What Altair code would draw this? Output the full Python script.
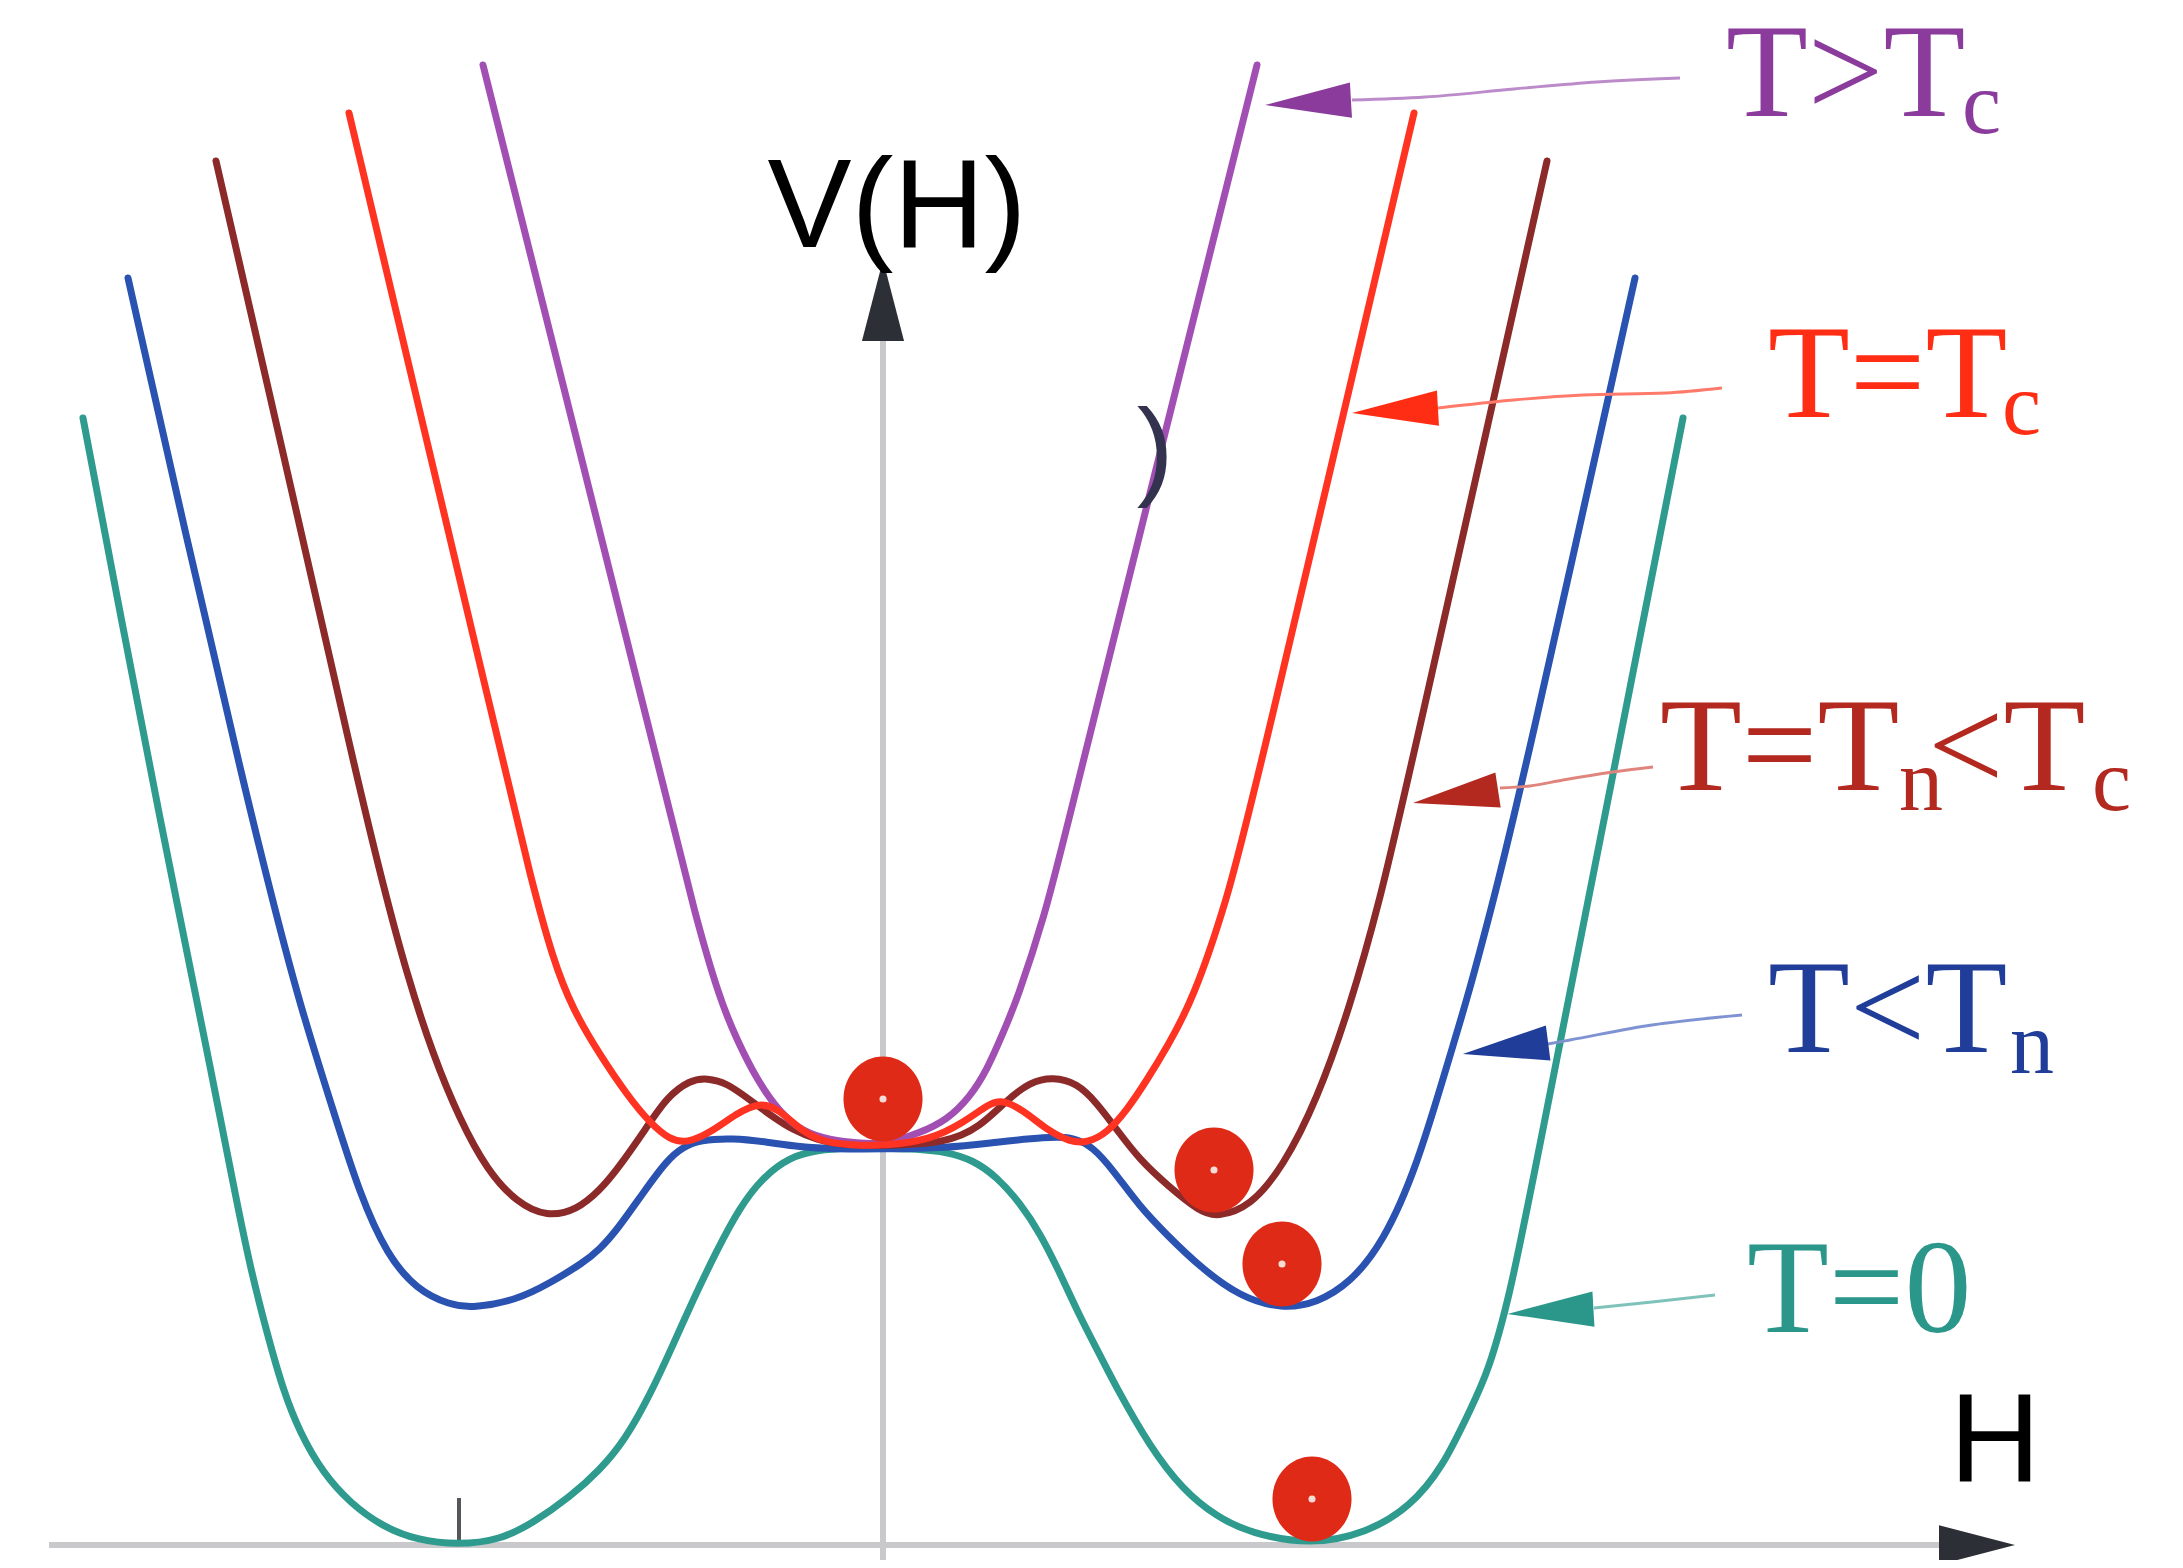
import altair as alt
import pandas as pd

# ---------------- curves V(H) (arbitrary units) ----------------
teal_pts = [(-2.0, 2.8175), (-1.9075, 2.3325), (-1.8175, 1.8625), (-1.665, 1.1125),
            (-1.625, 0.905), (-1.5825, 0.695), (-1.54, 0.53), (-1.5, 0.3875), (-1.4575, 0.28),
            (-1.4, 0.18), (-1.3325, 0.105), (-1.25, 0.045), (-1.165, 0.0125), (-1.0625, 0.0),
            (-0.9575, 0.0125), (-0.875, 0.055), (-0.7825, 0.12), (-0.7075, 0.1875), (-0.645, 0.2625),
            (-0.5825, 0.375), (-0.525, 0.5), (-0.475, 0.6125), (-0.415, 0.7375), (-0.3575, 0.845),
            (-0.3, 0.92), (-0.2325, 0.97), (-0.165, 0.9875), (-0.0825, 0.9925), (0.0, 0.9925),
            (0.085, 0.99), (0.16, 0.9825), (0.225, 0.9625), (0.285, 0.92), (0.3425, 0.855),
            (0.3925, 0.78), (0.4425, 0.68), (0.4925, 0.57), (0.5425, 0.475), (0.58, 0.4),
            (0.6675, 0.245), (0.75, 0.1375), (0.835, 0.07), (0.9175, 0.03), (1.0675, 0.0),
            (1.21, 0.03), (1.3175, 0.095), (1.4, 0.195), (1.4675, 0.3375), (1.5125, 0.43),
            (1.5675, 0.625), (1.625, 0.9125), (1.8125, 1.8625), (2.0, 2.8175)]

blue_pts = [(-1.8875, 3.1675), (-1.7425, 2.5225), (-1.595, 1.8875), (-1.52, 1.5875), (-1.4575, 1.35),
            (-1.375, 1.0875), (-1.3075, 0.875), (-1.24, 0.725), (-1.165, 0.6375), (-1.0825, 0.6),
            (-1.025, 0.5925), (-0.915, 0.6125), (-0.8325, 0.655), (-0.75, 0.705), (-0.7075, 0.74),
            (-0.665, 0.7875), (-0.6, 0.88), (-0.54, 0.9625), (-0.5, 0.995), (-0.4575, 1.0125),
            (-0.375, 1.0175), (-0.29, 1.0075), (-0.2075, 0.995), (-0.125, 0.99), (0.0, 0.99),
            (0.16, 0.9925), (0.285, 1.0075), (0.41, 1.02), (0.475, 1.02), (0.525, 0.995),
            (0.575, 0.9375), (0.6425, 0.845), (0.71, 0.775), (0.7925, 0.695), (0.8925, 0.62),
            (0.9975, 0.59), (1.085, 0.605), (1.1675, 0.655), (1.25, 0.755), (1.335, 0.945),
            (1.4175, 1.225), (1.4575, 1.355), (1.52, 1.5875), (1.595, 1.8875), (1.88, 3.1675)]

brown_pts = [(-1.6675, 3.46), (-1.4875, 2.6775), (-1.32, 1.9375), (-1.25, 1.65), (-1.19, 1.425),
             (-1.125, 1.225), (-1.0575, 1.0625), (-0.99, 0.9375), (-0.915, 0.855), (-0.84, 0.82),
             (-0.765, 0.8375), (-0.7075, 0.8875), (-0.665, 0.9375), (-0.59, 1.045), (-0.54, 1.12),
             (-0.4825, 1.1625), (-0.44, 1.1675), (-0.39, 1.155), (-0.3325, 1.1125), (-0.275, 1.07),
             (-0.225, 1.0375), (-0.165, 1.0125), (-0.1, 1.0), (0.0, 0.9975), (0.16, 1.005),
             (0.2425, 1.045), (0.31, 1.1125), (0.3675, 1.1575), (0.425, 1.17), (0.485, 1.155),
             (0.535, 1.105), (0.585, 1.0375), (0.6425, 0.9625), (0.71, 0.9), (0.7925, 0.8325),
             (0.835, 0.82), (0.9175, 0.845), (1.0, 0.945), (1.085, 1.1125), (1.1675, 1.345),
             (1.2425, 1.6125), (1.31, 1.9), (1.66, 3.46)]

purple_pts = [(-1.0, 3.7), (-0.54, 1.8625), (-0.47, 1.575), (-0.4075, 1.3625), (-0.365, 1.2625),
              (-0.315, 1.1625), (-0.2575, 1.08), (-0.2, 1.0325), (-0.1325, 1.0125), (-0.065, 1.005),
              (0.0, 1.0), (0.0925, 1.03), (0.16, 1.0625), (0.2175, 1.12), (0.26, 1.1875),
              (0.3, 1.28), (0.335, 1.3625), (0.405, 1.575), (0.455, 1.775), (0.6275, 2.47), (0.935, 3.7)]

red_pts = [(-1.335, 3.58), (-0.945, 1.9375), (-0.8825, 1.675), (-0.825, 1.4625), (-0.775, 1.3375),
           (-0.7075, 1.225), (-0.64, 1.125), (-0.5825, 1.055), (-0.5325, 1.0125), (-0.49, 1.005),
           (-0.4325, 1.03), (-0.365, 1.08), (-0.3075, 1.1075), (-0.2575, 1.0875), (-0.2075, 1.0375),
           (-0.15, 1.0075), (-0.0825, 1.0), (0.0, 0.9975), (0.1175, 1.0125), (0.2, 1.055),
           (0.2675, 1.105), (0.3, 1.1125), (0.35, 1.0875), (0.41, 1.0375), (0.4675, 1.0075),
           (0.51, 1.005), (0.56, 1.03), (0.61, 1.0875), (0.66, 1.1625), (0.71, 1.245),
           (0.775, 1.3625), (0.86, 1.6125), (0.925, 1.8625), (1.3275, 3.58)]

# draw order: bottom to top
curves = [("T=0", teal_pts, "#2e9b8e"), ("T<Tn", blue_pts, "#2a52b0"),
          ("T=Tn<Tc", brown_pts, "#8c2a2a"), ("T>Tc", purple_pts, "#a24fb3"),
          ("T=Tc", red_pts, "#ff3322")]

# balls (field values sitting in the minima)
balls = [(0.0, 1.115), (0.8275, 0.9375), (0.9975, 0.7025), (1.0725, 0.115)]

# legend labels
labels = ["T>Tc", "T=Tc", "T=Tn<Tc", "T<Tn", "T=0"]
label_colors = ["#8a3b9c", "#ff2d14", "#b3291f", "#1f3d99", "#2b968a"]
pointer_colors = ["#bb8bca", "#ff7a6a", "#e0857e", "#7f93d2", "#7fc2b9"]

main_pieces = [("T>Tc", "T>T", 2.1075, 3.5725), ("T=Tc", "T=T", 2.2125, 2.82),
               ("T=Tn<Tc", "T=T", 1.9425, 1.8875), ("T=Tn<Tc", "<T", 2.6125, 1.8875),
               ("T<Tn", "T<T", 2.2125, 1.2325), ("T=0", "T=0", 2.16, 0.5325)]
sub_pieces = [("T>Tc", "c", 2.6975, 3.53), ("T=Tc", "c", 2.7975, 2.7775),
              ("T=Tn<Tc", "n", 2.54, 1.8375), ("T=Tn<Tc", "c", 3.0225, 1.8375),
              ("T<Tn", "n", 2.8175, 1.18)]

pointers = {
    "T>Tc": [(1.1725, 3.6125), (1.355, 3.62), (1.5775, 3.64), (1.785, 3.6575), (1.9925, 3.6675)],
    "T=Tc": [(1.3875, 2.8425), (1.5775, 2.8625), (1.75, 2.875), (1.9575, 2.88), (2.0975, 2.8925)],
    "T=Tn<Tc": [(1.5425, 1.8925), (1.6175, 1.8975), (1.7, 1.9125), (1.825, 1.9325), (1.925, 1.945)],
    "T<Tn": [(1.6625, 1.2525), (1.7175, 1.2625), (1.9225, 1.3), (2.1475, 1.325)],
    "T=0": [(1.7775, 0.5925), (1.9225, 0.6075), (2.08, 0.625)],
}
# arrowhead centre and heading (degrees, clockwise on screen)
heads = [("T>Tc", 1.0625, 3.60625, 176.7), ("T=Tc", 1.28, 2.83625, 176.7),
         ("T=Tn<Tc", 1.43125, 1.87125, 171.3), ("T<Tn", 1.55625, 1.24125, 172.6),
         ("T=0", 1.66875, 0.58375, 176.7)]

# ---------------- scales ----------------
xs = alt.Scale(domain=[-2.1875, 3.23], nice=False, zero=False)
ys = alt.Scale(domain=[-0.0375, 3.8425], nice=False, zero=False)
X = lambda f: alt.X(f, type="quantitative", scale=xs, axis=None)
Y = lambda f: alt.Y(f, type="quantitative", scale=ys, axis=None)
lab_scale = alt.Scale(domain=labels, range=label_colors)

layers = []

# axes
axis_df = pd.DataFrame({"x": [-2.085, 0.0], "y": [0.0, -0.07], "x2": [2.6425, 0.0], "y2": [0.0, 3.01]})
layers.append(alt.Chart(axis_df).mark_rule(color="#c9c9cc", strokeWidth=6).encode(
    x=X("x"), y=Y("y"), x2="x2", y2="y2"))
tick_df = pd.DataFrame({"x": [-1.06], "y": [0.0], "y2": [0.1175]})
layers.append(alt.Chart(tick_df).mark_rule(color="#55565a", strokeWidth=4).encode(
    x=X("x"), y=Y("y"), y2="y2"))
axis_arrow = "M 1 0 L -1 -0.52 L -1 0.52 Z"
layers.append(alt.Chart(pd.DataFrame({"x": [2.735], "y": [0.0]})).mark_point(
    shape=axis_arrow, filled=True, opacity=1, size=5776, color="#2c2f36", angle=0).encode(x=X("x"), y=Y("y")))
layers.append(alt.Chart(pd.DataFrame({"x": [0.0], "y": [3.111]})).mark_point(
    shape=axis_arrow, filled=True, opacity=1, size=6561, color="#2c2f36", angle=270).encode(x=X("x"), y=Y("y")))

# curves
for name, pts, col in curves:
    df = pd.DataFrame(pts, columns=["H", "V"])
    layers.append(alt.Chart(df).mark_line(color=col, strokeWidth=7, interpolate="basis",
                                          strokeCap="round").encode(x=X("H"), y=Y("V")))

# balls
ball_df = pd.DataFrame(balls, columns=["H", "V"])
ellipse = ("M 0 -1 C 0.5136 -1 0.93 -0.5523 0.93 0 C 0.93 0.5523 0.5136 1 0 1 "
           "C -0.5136 1 -0.93 0.5523 -0.93 0 C -0.93 -0.5523 -0.5136 -1 0 -1 Z")
layers.append(alt.Chart(ball_df).mark_point(shape=ellipse, filled=True, opacity=1, size=7225,
                                            color="#e02a18").encode(x=X("H"), y=Y("V")))
layers.append(alt.Chart(ball_df).mark_point(shape="circle", filled=True, opacity=1, size=50,
                                            color="#f6dcd6").encode(x=X("H"), y=Y("V")))

# pointer lines
for lab, col in zip(labels, pointer_colors):
    df = pd.DataFrame(pointers[lab], columns=["H", "V"])
    layers.append(alt.Chart(df).mark_line(strokeWidth=2.8, interpolate="monotone", color=col).encode(
        x=X("H"), y=Y("V")))

head_df = pd.DataFrame(heads, columns=["label", "H", "V", "angle"])
layers.append(alt.Chart(head_df).mark_point(shape="M 1 0 L -1 -0.41 L -1 0.41 Z", filled=True,
                                            opacity=1, size=7400).encode(
    x=X("H"), y=Y("V"), angle=alt.Angle("angle:Q", scale=None),
    color=alt.Color("label:N", scale=lab_scale, legend=None)))

# legend text
main_df = pd.DataFrame(main_pieces, columns=["label", "text", "H", "V"])
sub_df = pd.DataFrame(sub_pieces, columns=["label", "text", "H", "V"])
layers.append(alt.Chart(main_df).mark_text(align="left", baseline="alphabetic", font="Liberation Serif",
                                           fontSize=134).encode(
    x=X("H"), y=Y("V"), text="text:N", color=alt.Color("label:N", scale=lab_scale, legend=None)))
layers.append(alt.Chart(sub_df).mark_text(align="left", baseline="alphabetic", font="Liberation Serif",
                                          fontSize=88).encode(
    x=X("H"), y=Y("V"), text="text:N", color=alt.Color("label:N", scale=lab_scale, legend=None)))

# axis titles and the stray bracket
title_df = pd.DataFrame({"text": ["V(H)", "H"], "H": [0.035, 2.78], "V": [3.245, 0.16]})
layers.append(alt.Chart(title_df).mark_text(align="center", baseline="alphabetic", font="Liberation Sans",
                                            fontSize=126, color="black").encode(
    x=X("H"), y=Y("V"), text="text:N"))
layers.append(alt.Chart(pd.DataFrame({"text": [")"], "H": [0.68], "V": [2.65]})).mark_text(
    align="center", baseline="alphabetic", font="Liberation Sans", fontSize=110, color="#33334f").encode(
    x=X("H"), y=Y("V"), text="text:N"))

chart = alt.layer(*layers).properties(
    width=2167, height=1552, padding=0,
    autosize=alt.AutoSizeParams(type="none"), background="white"
).configure_view(strokeWidth=0)

chart.save("out.html", embed_options={"renderer": "svg", "actions": False})
